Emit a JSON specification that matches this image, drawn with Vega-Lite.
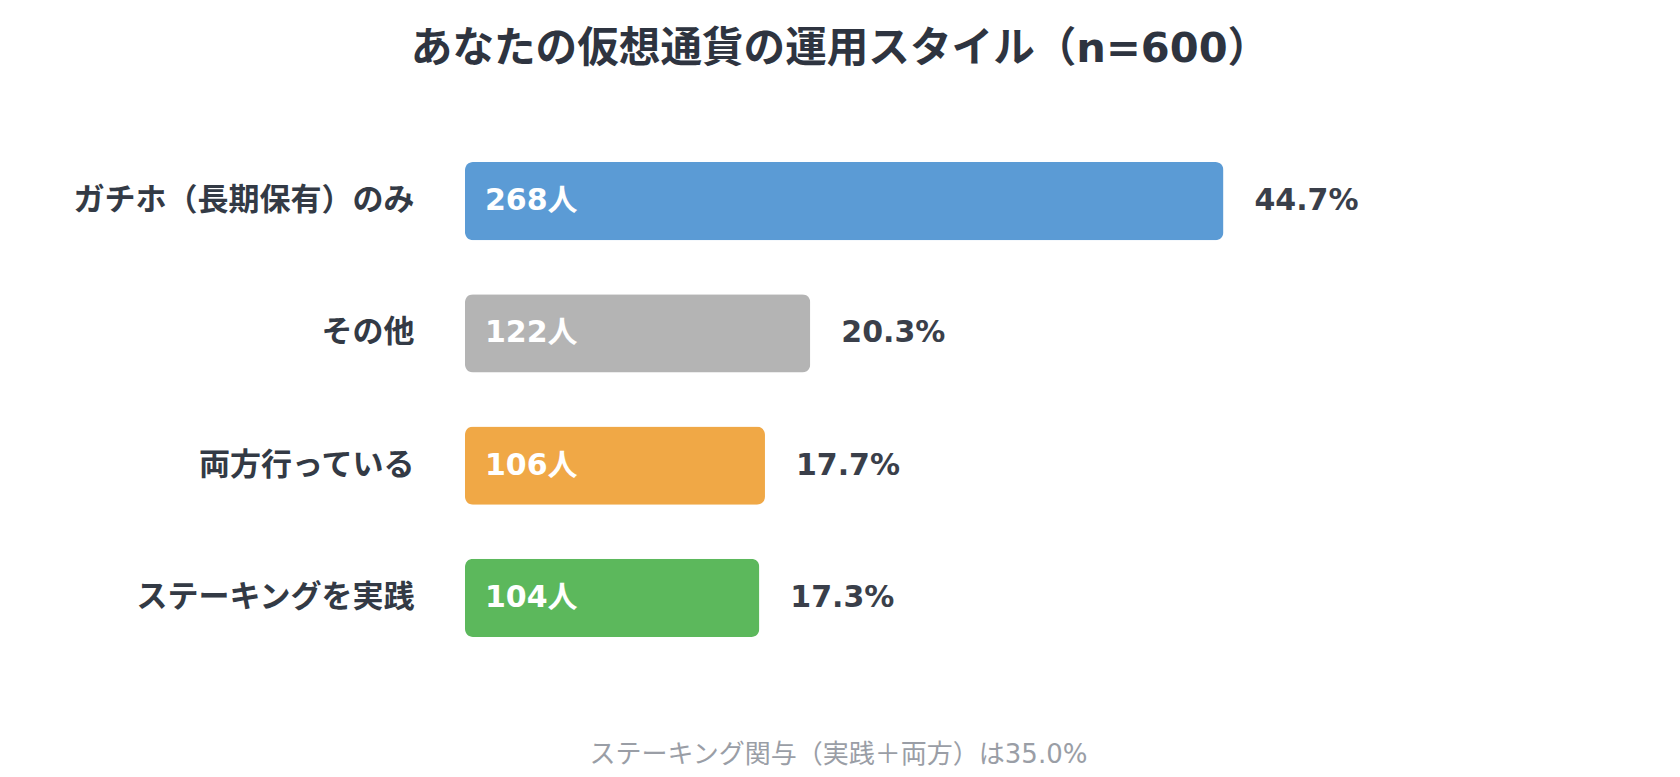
{
  "$schema": "https://vega.github.io/schema/vega-lite/v6.json",
  "autosize": "none",
  "width": 1132,
  "height": 529,
  "padding": {"left": 465, "top": 135, "right": 83, "bottom": 113},
  "background": "#ffffff",
  "config": {
    "view": {"stroke": null},
    "font": "DejaVu Sans, Noto Sans CJK JP"
  },
  "title": {
    "text": "あなたの仮想通貨の運用スタイル（n=600）",
    "fontSize": 41.6,
    "fontWeight": "bold",
    "color": "#2e3440",
    "anchor": "middle",
    "dx": -191,
    "offset": 64
  },
  "data": {
    "values": [
      {"style": "ガチホ（長期保有）のみ", "count": 268, "pct": 44.7},
      {"style": "その他", "count": 122, "pct": 20.3},
      {"style": "両方行っている", "count": 106, "pct": 17.7},
      {"style": "ステーキングを実践", "count": 104, "pct": 17.3}
    ]
  },
  "transform": [
    {"calculate": "datum.count + '人'", "as": "countLabel"},
    {"calculate": "format(datum.pct, '.1f') + '%'", "as": "pctLabel"}
  ],
  "encoding": {
    "y": {
      "field": "style",
      "type": "nominal",
      "sort": null,
      "scale": {"paddingInner": 0.41, "paddingOuter": 0.205},
      "axis": {
        "title": null,
        "ticks": false,
        "domain": false,
        "labelPadding": 51,
        "labelLimit": 0,
        "labelFontSize": 31,
        "labelFontWeight": "bold",
        "labelColor": "#333a45"
      }
    }
  },
  "layer": [
    {
      "mark": {"type": "bar", "cornerRadius": 8},
      "encoding": {
        "x": {
          "field": "count",
          "type": "quantitative",
          "scale": {"domain": [0, 400]},
          "axis": {
            "grid": false,
            "ticks": false,
            "labels": false,
            "domain": false,
            "title": "ステーキング関与（実践＋両方）は35.0%",
            "titleFontSize": 26,
            "titleFontWeight": "normal",
            "titleColor": "#9a9ea6",
            "titleX": 373,
            "titleY": 90,
            "titleAnchor": "middle",
            "titleAlign": "center",
            "titleBaseline": "middle"
          }
        },
        "color": {
          "field": "style",
          "type": "nominal",
          "scale": {
            "domain": ["ガチホ（長期保有）のみ", "その他", "両方行っている", "ステーキングを実践"],
            "range": ["#5b9bd5", "#b4b4b4", "#f0a846", "#5cb85c"]
          },
          "legend": null
        }
      }
    },
    {
      "mark": {"type": "text", "align": "left", "baseline": "middle", "dx": 20, "fontSize": 30, "fontWeight": "bold", "color": "#ffffff"},
      "encoding": {
        "x": {"datum": 0, "type": "quantitative"},
        "text": {"field": "countLabel"}
      }
    },
    {
      "mark": {"type": "text", "align": "left", "baseline": "middle", "dx": 31, "fontSize": 30, "fontWeight": "bold", "color": "#3a3f4a"},
      "encoding": {
        "x": {"field": "count", "type": "quantitative"},
        "text": {"field": "pctLabel"}
      }
    }
  ]
}
